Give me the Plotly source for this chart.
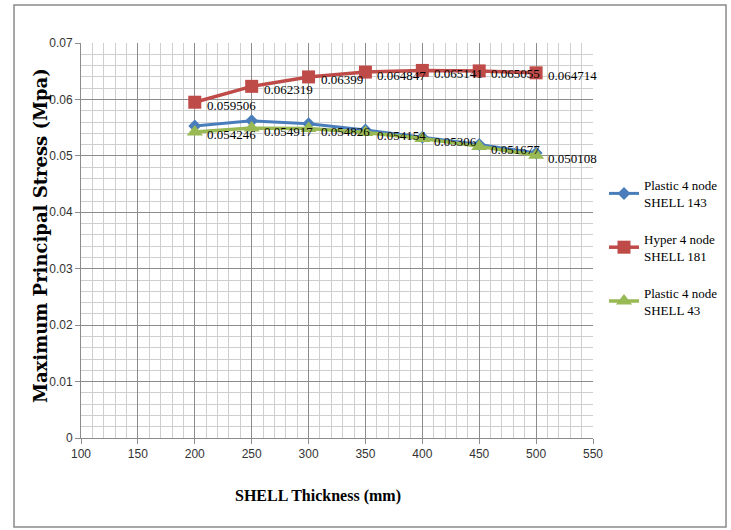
import plotly.graph_objects as go

# Shell thickness (mm)
thickness = [200, 250, 300, 350, 400, 450, 500]

# Maximum principal stress (MPa) per element type
plastic_143 = [0.0553, 0.0562, 0.0557, 0.0546, 0.0533, 0.0520, 0.0505]
hyper_181 = [0.059506, 0.062319, 0.06399, 0.064847, 0.065141, 0.065055, 0.064714]
plastic_43 = [0.054246, 0.054917, 0.054826, 0.054154, 0.05306, 0.051677, 0.050108]

names = ["Plastic 4 node<br>SHELL 143", "Hyper 4 node<br>SHELL 181", "Plastic 4 node<br>SHELL 43"]
colors = ["#4A7EBB", "#BE4B48", "#98B954"]

W, H = 731, 530
ML, MR, MT, MB = 81, 138, 43, 92

fig = go.Figure()
fig.add_trace(go.Scatter(
    x=thickness, y=plastic_143, name=names[0], mode="lines+markers", legendgroup="a",
    line=dict(color=colors[0], width=3),
    marker=dict(symbol="diamond", size=10, color=colors[0]),
))
fig.add_trace(go.Scatter(
    x=thickness, y=hyper_181, name=names[1], mode="lines+markers", legendgroup="b",
    line=dict(color=colors[1], width=3.5),
    marker=dict(symbol="square", size=13, color=colors[1]),
))
fig.add_trace(go.Scatter(
    x=thickness, y=plastic_43, name=names[2], mode="lines+markers", legendgroup="c",
    line=dict(color=colors[2], width=3.5),
    marker=dict(symbol="triangle-up", size=14, color=colors[2]),
))

label_font = dict(family="Liberation Serif, Times New Roman, serif", size=13, color="#000000")
for series in (hyper_181, plastic_43):
    for xv, yv in zip(thickness, series):
        fig.add_annotation(
            x=xv, y=yv, text=f"{yv:g}", showarrow=False,
            xanchor="left", yanchor="middle", xshift=10, yshift=-3,
            font=label_font,
        )

tick_font = dict(family="Liberation Sans Narrow, Liberation Sans, Arial Narrow, sans-serif",
                 size=12, color="#333333")

fig.update_xaxes(
    range=[100, 550], dtick=50, tick0=100,
    showgrid=True, gridcolor="#8c8c8c", gridwidth=1,
    minor=dict(dtick=10, showgrid=True, gridcolor="#cfcfcf", gridwidth=1),
    showline=True, linecolor="#8c8c8c", linewidth=1,
    ticks="outside", ticklen=5, tickcolor="#8c8c8c",
    tickfont=tick_font, zeroline=False,
)
fig.update_yaxes(
    range=[0, 0.07], dtick=0.01, tick0=0,
    tickvals=[0, 0.01, 0.02, 0.03, 0.04, 0.05, 0.06, 0.07],
    ticktext=["0", "0.01", "0.02", "0.03", "0.04", "0.05", "0.06", "0.07"],
    showgrid=True, gridcolor="#8c8c8c", gridwidth=1,
    minor=dict(dtick=0.002, showgrid=True, gridcolor="#cfcfcf", gridwidth=1),
    showline=True, linecolor="#8c8c8c", linewidth=1,
    ticks="outside", ticklen=5, tickcolor="#8c8c8c",
    tickfont=tick_font, zeroline=False,
)

# Pixel helpers for placing chart-area furniture outside the plot area
pw, ph = W - ML - MR, H - MT - MB
def px_x(p):
    return (p - ML) / pw
def px_y(p):
    return (H - MB - p) / ph

# Axis titles
fig.add_annotation(
    xref="paper", yref="paper", x=px_x(318), y=px_y(496),
    text="<b>SHELL Thickness (mm)</b>", showarrow=False,
    xanchor="center", yanchor="middle",
    font=dict(family="Liberation Serif, Times New Roman, serif", size=16, color="#000000"),
)
fig.add_annotation(
    xref="paper", yref="paper", x=px_x(40), y=px_y(236),
    text="<b>Maximum Principal Stress (Mpa)</b>", showarrow=False, textangle=-90,
    xanchor="center", yanchor="middle",
    font=dict(family="DejaVu Serif, serif", size=18, color="#000000"),
)

# Outer chart-area border
fig.add_shape(type="rect", xref="paper", yref="paper",
              x0=px_x(14), x1=px_x(726), y0=px_y(527), y1=px_y(5),
              line=dict(color="#8a8a8a", width=1.5), layer="below")

fig.update_layout(
    width=W, height=H,
    margin=dict(l=ML, r=MR, t=MT, b=MB, autoexpand=False),
    paper_bgcolor="white", plot_bgcolor="white",
    showlegend=True,
    legend=dict(
        x=px_x(604), y=px_y(170), xanchor="left", yanchor="top",
        font=dict(family="Liberation Serif, Times New Roman, serif", size=13, color="#000000"),
        tracegroupgap=17, itemwidth=30, bgcolor="rgba(0,0,0,0)",
    ),
)

fig.write_html("out.html")
